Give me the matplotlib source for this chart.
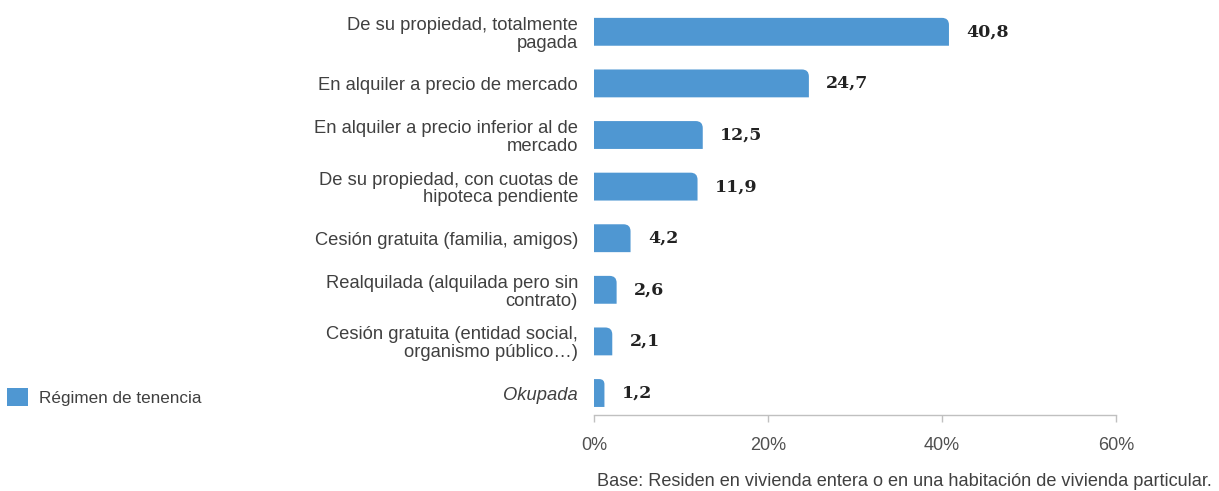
import matplotlib
matplotlib.use("Agg")
import matplotlib.pyplot as plt
from matplotlib.path import Path
from matplotlib.patches import PathPatch, Patch
from matplotlib.ticker import FuncFormatter

categories = [
    "De su propiedad, totalmente\npagada",
    "En alquiler a precio de mercado",
    "En alquiler a precio inferior al de\nmercado",
    "De su propiedad, con cuotas de\nhipoteca pendiente",
    "Cesión gratuita (familia, amigos)",
    "Realquilada (alquilada pero sin\ncontrato)",
    "Cesión gratuita (entidad social,\norganismo público…)",
    "Okupada",
]
values = [40.8, 24.7, 12.5, 11.9, 4.2, 2.6, 2.1, 1.2]
value_labels = ["40,8", "24,7", "12,5", "11,9", "4,2", "2,6", "2,1", "1,2"]
x_ticks = [0, 20, 40, 60]
series_name = "Régimen de tenencia"
footnote = "Base: Residen en vivienda entera o en una habitación de vivienda particular."

BAR_COLOR = "#4f97d2"
TEXT_COLOR = "#404040"
AXIS_COLOR = "#c0c0c0"

plt.rcParams["font.family"] = ["Liberation Sans", "DejaVu Sans"]

fig = plt.figure(figsize=(12.19, 4.91), dpi=100)
ax = fig.add_axes([594 / 1219, 76 / 491, 522 / 1219, 409 / 491])

ypos = list(range(len(categories)))
bars = ax.barh(ypos, values, height=0.54, color=BAR_COLOR, label=series_name)
ax.set_xlim(0, 60)
ax.set_ylim(7.426, -0.5)

# rounded top-right corner for each bar
fig.canvas.draw()
px_x = ax.transData.transform((1, 0))[0] - ax.transData.transform((0, 0))[0]
px_y = abs(ax.transData.transform((0, 1))[1] - ax.transData.transform((0, 0))[1])
for rect in bars.patches:
    x0, y0 = rect.get_x(), rect.get_y()
    w, h = rect.get_width(), rect.get_height()
    rpx = min(7.0, w * px_x * 0.5, h * px_y * 0.5)
    rx, ry = rpx / px_x, rpx / px_y
    top, bot = y0, y0 + h
    verts = [
        (x0, bot), (x0, top), (x0 + w - rx, top),
        (x0 + w, top), (x0 + w, top + ry),
        (x0 + w, bot), (x0, bot),
    ]
    codes = [Path.MOVETO, Path.LINETO, Path.LINETO,
             Path.CURVE3, Path.CURVE3,
             Path.LINETO, Path.CLOSEPOLY]
    rect.set_visible(False)
    ax.add_patch(PathPatch(Path(verts, codes), facecolor=BAR_COLOR,
                           edgecolor="none"))

for y, v, lab in zip(ypos, values, value_labels):
    ax.annotate(lab, (v, y), xytext=(12.5, 0), textcoords="offset points",
                ha="left", va="center", fontsize=12.5, fontweight="bold",
                family="DejaVu Serif", color="#222222")

ax.set_yticks(ypos)
ax.set_yticklabels(categories, fontsize=13.2, color=TEXT_COLOR, ha="right",
                   linespacing=1.06)
ax.get_yticklabels()[-1].set_fontstyle("italic")
ax.tick_params(axis="y", length=0, pad=11.5)

ax.set_xticks(x_ticks)
ax.xaxis.set_major_formatter(FuncFormatter(lambda v, p: f"{int(v)}%"))
ax.tick_params(axis="x", length=5, width=1, color=AXIS_COLOR, pad=11,
               labelsize=13, labelcolor="#505050")

for s in ["top", "right", "left"]:
    ax.spines[s].set_visible(False)
ax.spines["bottom"].set_color(AXIS_COLOR)
ax.spines["bottom"].set_linewidth(1)

fig.text(1212 / 1219, 1 - 481 / 491, footnote, ha="right", va="center",
         fontsize=13.1, color=TEXT_COLOR)

handle = Patch(facecolor=BAR_COLOR, edgecolor="none")
fig.legend(handles=[handle], labels=[series_name], loc="center left",
           bbox_to_anchor=(7 / 1219, 1 - 397 / 491), frameon=False,
           fontsize=12.3, handlelength=1.2, handleheight=1.2,
           handletextpad=0.65, borderpad=0, borderaxespad=0,
           labelcolor=TEXT_COLOR)

fig.savefig("out.png", dpi=100)
